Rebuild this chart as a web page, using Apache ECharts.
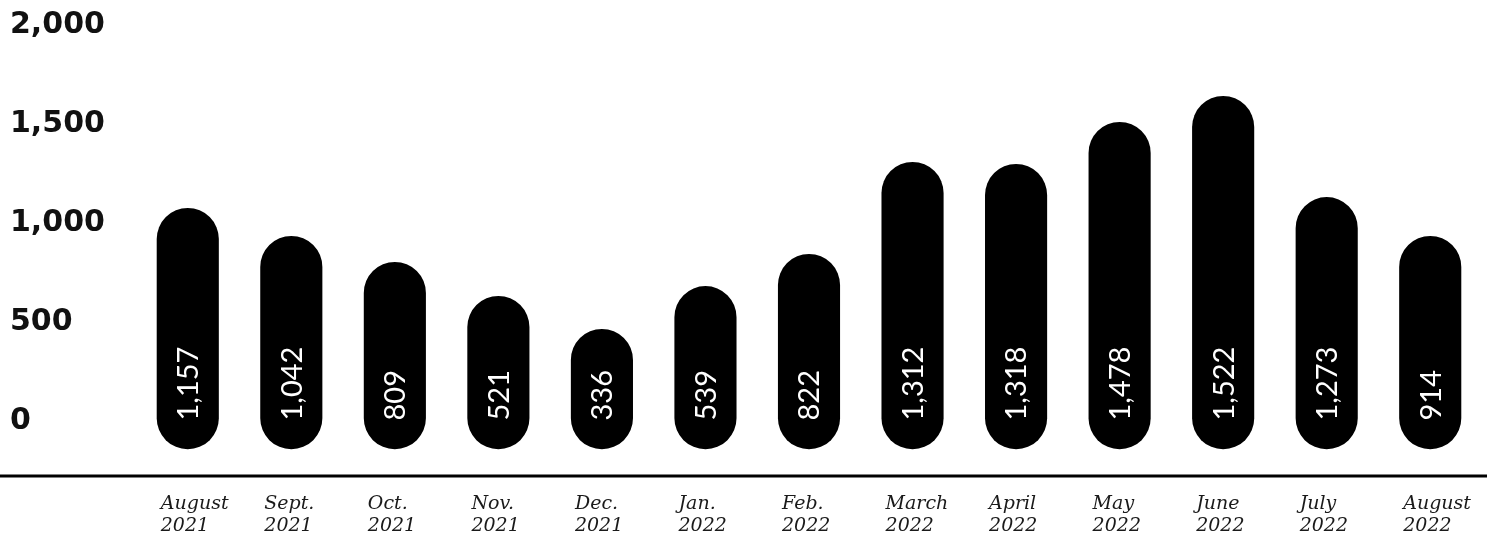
<!DOCTYPE html>
<html>
<head>
<meta charset="utf-8">
<script src="https://cdn.jsdelivr.net/npm/echarts@6/dist/echarts.min.js"></script>
<style>
  html, body { margin: 0; padding: 0; background: #fff; }
  #chart { width: 1487px; height: 538px; }
</style>
</head>
<body>
<div id="chart"></div>
<script>
// ---- data ----
const categories = ['August\n2021', 'Sept.\n2021', 'Oct.\n2021', 'Nov.\n2021', 'Dec.\n2021', 'Jan.\n2022',
  'Feb.\n2022', 'March\n2022', 'April\n2022', 'May\n2022', 'June\n2022', 'July\n2022', 'August\n2022'];
// printed values inside the bars
const values = [1157, 1042, 809, 521, 336, 539, 822, 1312, 1318, 1478, 1522, 1273, 914];
// drawn bar heights as read against the y-axis of the picture
const barHeights = [1077, 936, 805, 633, 467, 683, 845, 1309, 1299, 1511, 1642, 1132, 936];
const yTicks = [0, 500, 1000, 1500, 2000];

const Y_MIN = -275;
const BAR_BASE = -140;

const chart = echarts.init(document.getElementById('chart'), null, { renderer: 'canvas' });
const fmt = v => v.toLocaleString('en-US');

chart.setOption({
  animation: false,
  backgroundColor: '#ffffff',
  grid: { left: 136, right: 5, top: 25, bottom: 62 },
  xAxis: {
    type: 'category',
    data: categories,
    boundaryGap: true,
    axisLine: { show: false },
    axisTick: { show: false },
    axisLabel: { show: false }
  },
  yAxis: {
    type: 'value',
    min: Y_MIN,
    max: 2000,
    splitLine: { show: false },
    axisLine: { show: false },
    axisTick: { show: false },
    axisLabel: {
      customValues: yTicks,
      formatter: v => fmt(v),
      align: 'left',
      margin: 126,
      fontFamily: 'DejaVu Sans',
      fontWeight: 'bold',
      fontSize: 30,
      color: '#111'
    }
  },
  graphic: [{
    type: 'line',
    shape: { x1: 0, y1: 476, x2: 1487, y2: 476 },
    style: { stroke: '#000', lineWidth: 3 },
    z: 10
  }],
  series: [{
    type: 'custom',
    clip: false,
    data: barHeights.map((h, i) => [i, h, values[i]]),
    encode: { x: 0, y: 1 },
    renderItem: function (params, api) {
      const i = api.value(0);
      const top = api.coord([i, api.value(1)]);
      const bottom = api.coord([i, BAR_BASE]);
      const zero = api.coord([i, 0]);
      const axisBottom = api.coord([i, Y_MIN]);
      const w = api.size([1, 0])[0] * 0.6;
      return {
        type: 'group',
        children: [
          {
            type: 'rect',
            shape: { x: top[0] - w / 2, y: top[1], width: w, height: bottom[1] - top[1], r: w / 2 },
            style: { fill: '#000' }
          },
          {
            type: 'text',
            x: zero[0] + 1,
            y: zero[1] - 1,
            rotation: Math.PI / 2,
            style: {
              text: fmt(api.value(2)),
              fill: '#fff',
              fontFamily: 'Lato',
              fontWeight: 'normal',
              fontSize: 29,
              align: 'left',
              verticalAlign: 'middle'
            }
          },
          {
            type: 'text',
            x: top[0] - 27,
            y: axisBottom[1] + 17,
            style: {
              text: categories[i],
              fill: '#1a1a1a',
              fontFamily: 'DejaVu Serif',
              fontStyle: 'italic',
              fontSize: 19,
              lineHeight: 22,
              align: 'left',
              verticalAlign: 'top'
            }
          }
        ]
      };
    }
  }]
});
</script>
</body>
</html>
